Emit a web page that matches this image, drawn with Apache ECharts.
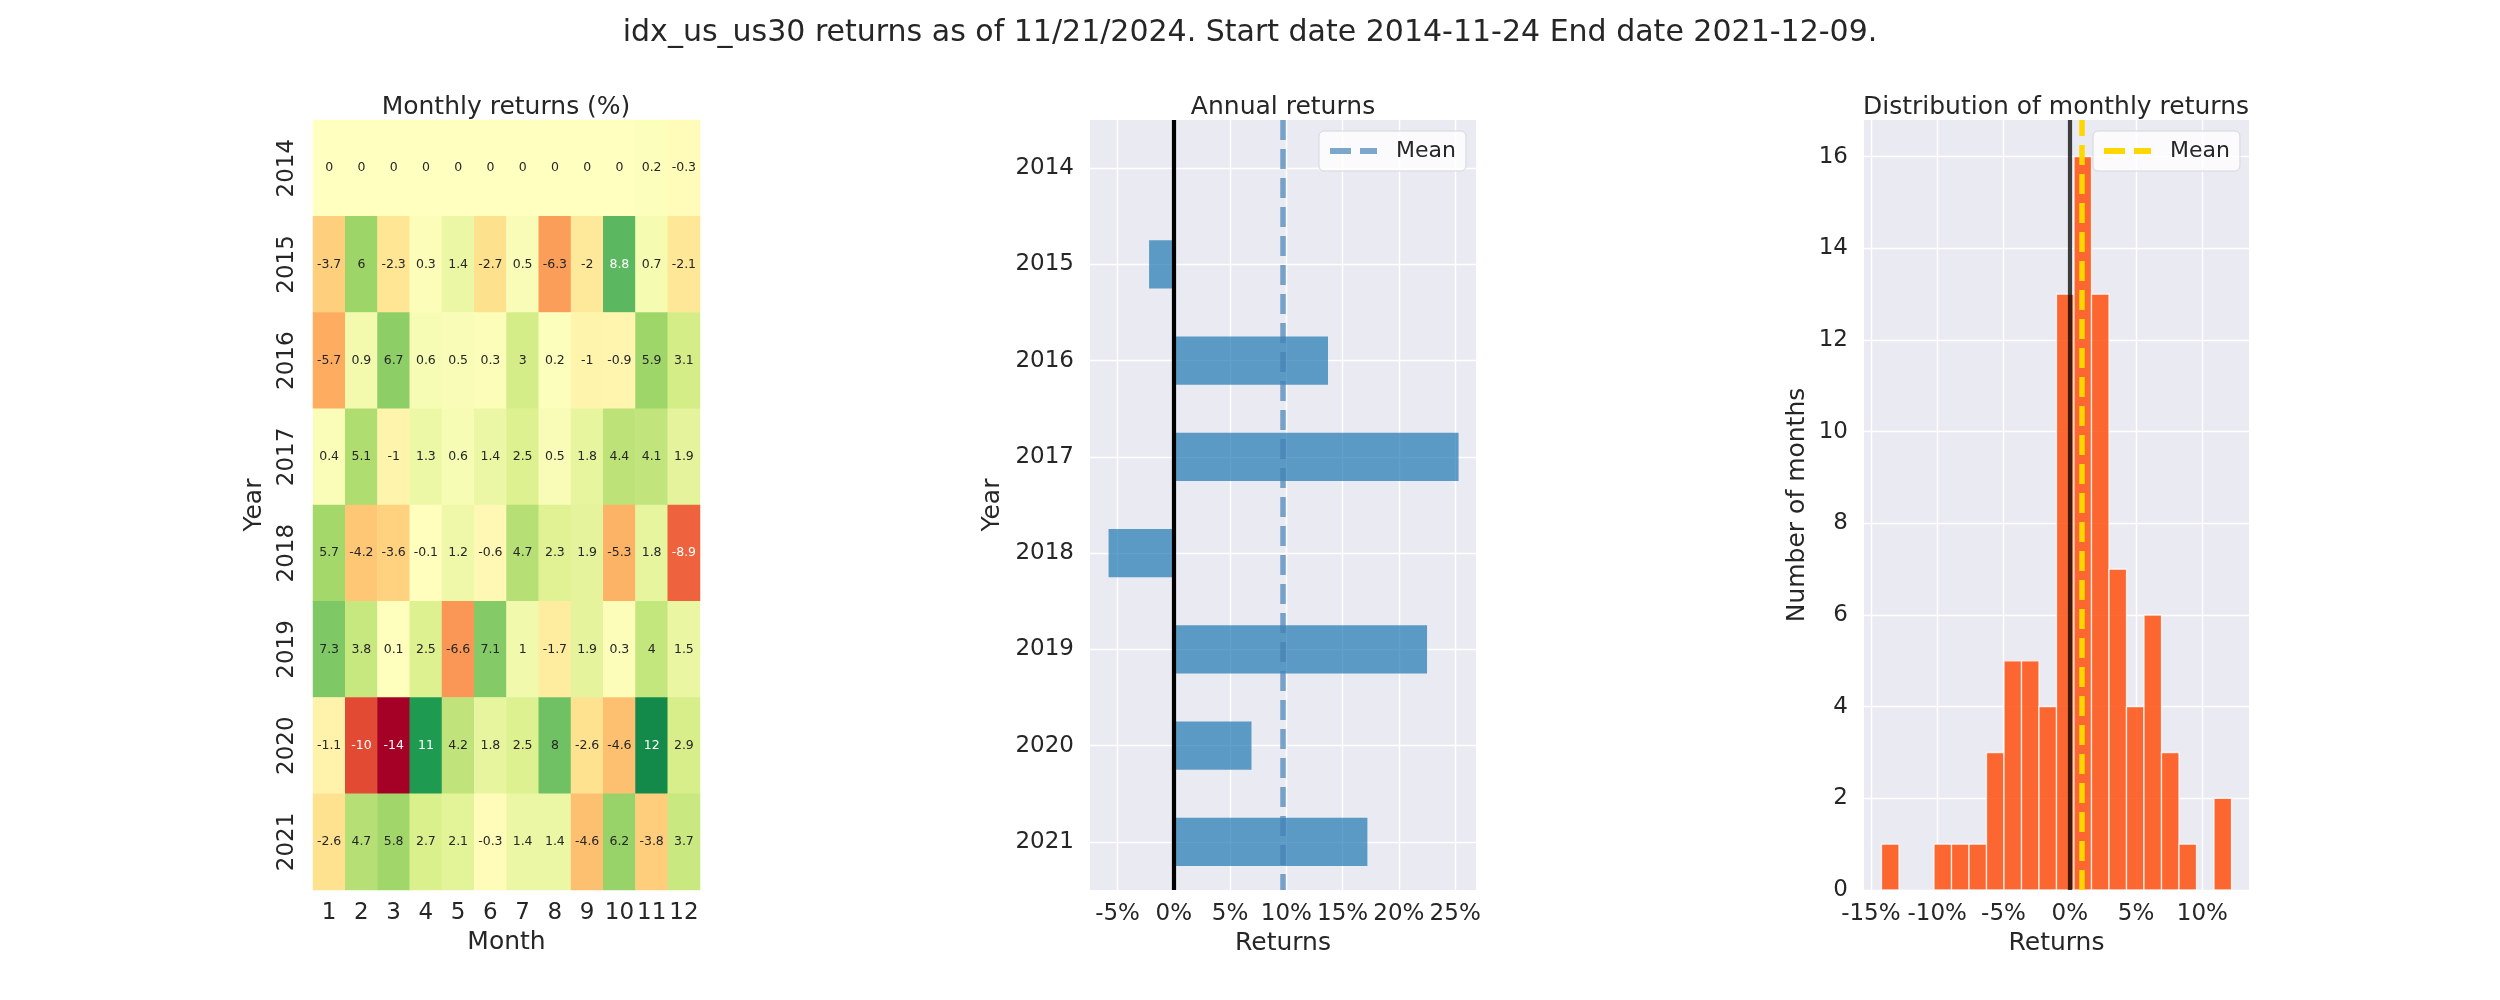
<!DOCTYPE html>
<html><head><meta charset="utf-8">
<script src="https://cdn.jsdelivr.net/npm/echarts@6/dist/echarts.min.js"></script>
<style>html,body{margin:0;padding:0;background:#fff}#c{width:2500px;height:1000px}</style>
</head><body><div id="c"></div>
<script>
// ---------------- DATA ----------------
const years = ['2014', '2015', '2016', '2017', '2018', '2019', '2020', '2021'];
const months = ['1', '2', '3', '4', '5', '6', '7', '8', '9', '10', '11', '12'];
// monthly returns (%) ; null = no data (shown as 0 in the heatmap)
const ret2014 = [null, null, null, null, null, null, null, null, null, null, 0.2, -0.3];
const ret2015 = [-3.7, 6, -2.3, 0.3, 1.4, -2.7, 0.5, -6.3, -2, 8.8, 0.7, -2.1];
const ret2016 = [-5.7, 0.9, 6.7, 0.6, 0.5, 0.3, 3, 0.2, -1, -0.9, 5.9, 3.1];
const ret2017 = [0.4, 5.1, -1, 1.3, 0.6, 1.4, 2.5, 0.5, 1.8, 4.4, 4.1, 1.9];
const ret2018 = [5.7, -4.2, -3.6, -0.1, 1.2, -0.6, 4.7, 2.3, 1.9, -5.3, 1.8, -8.9];
const ret2019 = [7.3, 3.8, 0.1, 2.5, -6.6, 7.1, 1, -1.7, 1.9, 0.3, 4, 1.5];
const ret2020 = [-1.1, -10, -14, 11, 4.2, 1.8, 2.5, 8, -2.6, -4.6, 12, 2.9];
const ret2021 = [-2.6, 4.7, 5.8, 2.7, 2.1, -0.3, 1.4, 1.4, -4.6, 6.2, -3.8, 3.7];
// annual returns (%)
const annualReturns = [-0.1, -2.2, 13.7, 25.3, -5.8, 22.5, 6.9, 17.2];
// histogram of monthly returns: 20 bins between histRange
const histRange = [-14.2, 12.2];
const histCounts = [1, 0, 0, 1, 1, 1, 3, 5, 5, 4, 13, 16, 13, 7, 4, 6, 3, 1, 0, 2];
// tick labels
const annualTicks = [-5, 0, 5, 10, 15, 20, 25];
const histXTicks = [-15, -10, -5, 0, 5, 10];
const histYTicks = [0, 2, 4, 6, 8, 10, 12, 14, 16];

// ---------------- BUILD ----------------
const monthlyRows = [ret2014, ret2015, ret2016, ret2017, ret2018, ret2019, ret2020, ret2021];
const FONT = 'DejaVu Sans';
const TXT = '#262626';
const BG = '#eaeaf2';

const rdylgn = ['#a50026','#d73027','#f46d43','#fdae61','#fee08b','#ffffbf','#d9ef8b','#a6d96a','#66bd63','#1a9850','#006837'];
function hex2rgb(h){return [parseInt(h.substr(1,2),16)/255,parseInt(h.substr(3,2),16)/255,parseInt(h.substr(5,2),16)/255];}
function cmap(t){
  t = Math.max(0, Math.min(1, t));
  const x = t * 10, i = Math.min(9, Math.floor(x)), f = x - i;
  const a = hex2rgb(rdylgn[i]), b = hex2rgb(rdylgn[i+1]);
  return a.map((v,k)=>v+(b[k]-v)*f);
}
function textColor(v, vr){
  const c = cmap((v + vr) / (2 * vr)).map(u => u <= 0.03928 ? u/12.92 : Math.pow((u+0.055)/1.055, 2.4));
  const l = 0.2126*c[0] + 0.7152*c[1] + 0.0722*c[2];
  return l > 0.408 ? TXT : '#ffffff';
}
let allVals = [];
monthlyRows.forEach(r => r.forEach(v => { if (v !== null) allVals.push(v); }));
const vrange = Math.max(Math.abs(Math.min(...allVals.concat([0]))), Math.abs(Math.max(...allVals.concat([0]))));
const heatData = [];
monthlyRows.forEach((row, yi) => row.forEach((v, mi) => {
  const val = v === null ? 0 : v;
  heatData.push({value: [mi, yi, val], label: {color: textColor(val, vrange)}});
}));
const monthlyMean = allVals.reduce((a,b)=>a+b,0) / allVals.length;
const annualMean = annualReturns.reduce((a,b)=>a+b,0) / annualReturns.length;

const nb = histCounts.length, bw = (histRange[1]-histRange[0]) / nb;
const histData = [];
histCounts.forEach((c, i) => { if (c > 0) histData.push([histRange[0] + i*bw, histRange[0] + (i+1)*bw, c]); });

const grids = [
  {left: 313, top: 120, width: 387, height: 770},
  {left: 1090, top: 120, width: 386, height: 770, show: true, backgroundColor: BG, borderWidth: 0},
  {left: 1864, top: 120, width: 385, height: 770, show: true, backgroundColor: BG, borderWidth: 0}
];
const tickFont = {fontFamily: FONT, fontSize: 23, color: TXT};
const nameFont = {fontFamily: FONT, fontSize: 25, color: TXT};
const gridLine = {show: true, lineStyle: {color: '#ffffff', width: 1.4}};
function legendFor(name, left, color, opacity) {
  return {data: [name], left: left, top: 131, itemWidth: 47, itemHeight: 14, padding: [9, 10, 9, 8],
    backgroundColor: 'rgba(255,255,255,0.8)', borderColor: '#d6d6dc', borderWidth: 1, borderRadius: 5,
    itemStyle: {color: 'rgba(0,0,0,0)', borderWidth: 0, opacity: 0},
    lineStyle: {color: color, width: 6, type: [21, 9], opacity: opacity},
    textStyle: {fontFamily: FONT, fontSize: 22, color: TXT, padding: [0, 0, 0, 14]},
    formatter: n => n.trim(), selectedMode: false};
}

const option = {
  animation: false,
  backgroundColor: '#ffffff',
  textStyle: {fontFamily: FONT},
  grid: grids,
  graphic: [
    {type: 'text', x: 1250, y: 33.5, style: {text: 'idx_us_us30 returns as of 11/21/2024. Start date 2014-11-24 End date 2021-12-09.', font: '30px "DejaVu Sans"', fill: TXT, textAlign: 'center', textVerticalAlign: 'middle'}},
    {type: 'text', x: 506, y: 107, style: {text: 'Monthly returns (%)', font: '25px "DejaVu Sans"', fill: TXT, textAlign: 'center', textVerticalAlign: 'middle'}},
    {type: 'text', x: 1283, y: 107, style: {text: 'Annual returns', font: '25px "DejaVu Sans"', fill: TXT, textAlign: 'center', textVerticalAlign: 'middle'}},
    {type: 'text', x: 2056, y: 107, style: {text: 'Distribution of monthly returns', font: '25px "DejaVu Sans"', fill: TXT, textAlign: 'center', textVerticalAlign: 'middle'}}
  ],
  xAxis: [
    {gridIndex: 0, type: 'category', data: months, axisLine: {show: false}, axisTick: {show: false}, splitLine: {show: false},
     axisLabel: Object.assign({margin: 12, interval: 0}, tickFont), name: 'Month', nameLocation: 'middle', nameGap: 40, nameTextStyle: nameFont},
    {gridIndex: 1, type: 'value', min: -7.45, max: 26.85, axisLine: {show: false}, axisTick: {show: false, customValues: annualTicks},
     splitLine: gridLine, axisLabel: Object.assign({margin: 13, customValues: annualTicks, formatter: v => v + '%'}, tickFont),
     name: 'Returns', nameLocation: 'middle', nameGap: 40, nameTextStyle: nameFont},
    {gridIndex: 2, type: 'value', min: -15.52, max: 13.52, axisLine: {show: false}, axisTick: {show: false, customValues: histXTicks},
     splitLine: gridLine, axisLabel: Object.assign({margin: 13, customValues: histXTicks, formatter: v => v + '%'}, tickFont),
     name: 'Returns', nameLocation: 'middle', nameGap: 40, nameTextStyle: nameFont}
  ],
  yAxis: [
    {gridIndex: 0, type: 'category', data: years, inverse: true, axisLine: {show: false}, axisTick: {show: false}, splitLine: {show: false},
     axisLabel: Object.assign({margin: 14, rotate: 90}, tickFont), name: 'Year', nameLocation: 'middle', nameGap: 46, nameTextStyle: nameFont},
    {gridIndex: 1, type: 'category', data: years, inverse: true, axisLine: {show: false}, axisTick: {show: false},
     splitLine: {show: true, alignWithLabel: true, lineStyle: {color: '#ffffff', width: 1.4}},
     axisLabel: Object.assign({margin: 16}, tickFont), name: 'Year', nameLocation: 'middle', nameGap: 85, nameTextStyle: nameFont},
    {gridIndex: 2, type: 'value', min: 0, max: 16.8, axisLine: {show: false}, axisTick: {show: false, customValues: histYTicks},
     splitLine: gridLine, axisLabel: Object.assign({margin: 16, customValues: histYTicks}, tickFont),
     name: 'Number of months', nameLocation: 'middle', nameGap: 54, nameTextStyle: nameFont}
  ],
  visualMap: {type: 'continuous', show: false, seriesIndex: 0, dimension: 2, min: -vrange, max: vrange, inRange: {color: rdylgn}},
  legend: [
    legendFor('Mean', 1319, 'steelblue', 0.7),
    legendFor('Mean ', 2093, '#ffd700', 1)
  ],
  series: [
    {type: 'heatmap', xAxisIndex: 0, yAxisIndex: 0, data: heatData,
     label: {show: true, fontFamily: FONT, fontSize: 12.5, formatter: p => String(p.value[2])},
     itemStyle: {borderWidth: 0}, emphasis: {disabled: true}},
    {type: 'bar', xAxisIndex: 1, yAxisIndex: 1, data: annualReturns, barWidth: '50%',
     itemStyle: {color: '#1f77b4', opacity: 0.7}, z: 2},
    {name: 'Mean', type: 'line', xAxisIndex: 1, yAxisIndex: 1, data: [], symbol: 'none', z: 4,
     lineStyle: {color: 'steelblue', width: 5.5, type: [20, 9], opacity: 0.7},
     markLine: {silent: true, symbol: 'none', label: {show: false}, lineStyle: {color: 'steelblue', width: 5.5, type: [20, 9], opacity: 0.7},
       data: [{xAxis: annualMean}]}},
    {type: 'line', xAxisIndex: 1, yAxisIndex: 1, data: [], symbol: 'none', z: 5,
     markLine: {silent: true, symbol: 'none', label: {show: false}, lineStyle: {color: '#000000', width: 4.2, type: 'solid'},
       data: [{xAxis: 0}]}},
    {type: 'custom', xAxisIndex: 2, yAxisIndex: 2, data: histData, encode: {x: [0, 1], y: 2}, z: 2,
     renderItem: (params, api) => {
       const p0 = api.coord([api.value(0), api.value(2)]);
       const p1 = api.coord([api.value(1), 0]);
       return {type: 'rect', shape: {x: p0[0], y: p0[1], width: p1[0] - p0[0], height: p1[1] - p0[1]},
               style: {fill: 'rgba(255,69,0,0.8)', stroke: 'rgba(255,255,255,0.8)', lineWidth: 1.3}};
     }},
    {name: 'Mean ', type: 'line', xAxisIndex: 2, yAxisIndex: 2, data: [], symbol: 'none', z: 4,
     lineStyle: {color: '#ffd700', width: 5.5, type: [20, 9]},
     markLine: {silent: true, symbol: 'none', label: {show: false}, lineStyle: {color: '#ffd700', width: 5.5, type: [20, 9]},
       data: [{xAxis: monthlyMean}]}},
    {type: 'line', xAxisIndex: 2, yAxisIndex: 2, data: [], symbol: 'none', z: 5,
     markLine: {silent: true, symbol: 'none', label: {show: false}, lineStyle: {color: 'rgba(0,0,0,0.75)', width: 4.2, type: 'solid'},
       data: [{xAxis: 0}]}}
  ]
};
const chart = echarts.init(document.getElementById('c'), null, {renderer: 'canvas'});
chart.setOption(option);
</script></body></html>
